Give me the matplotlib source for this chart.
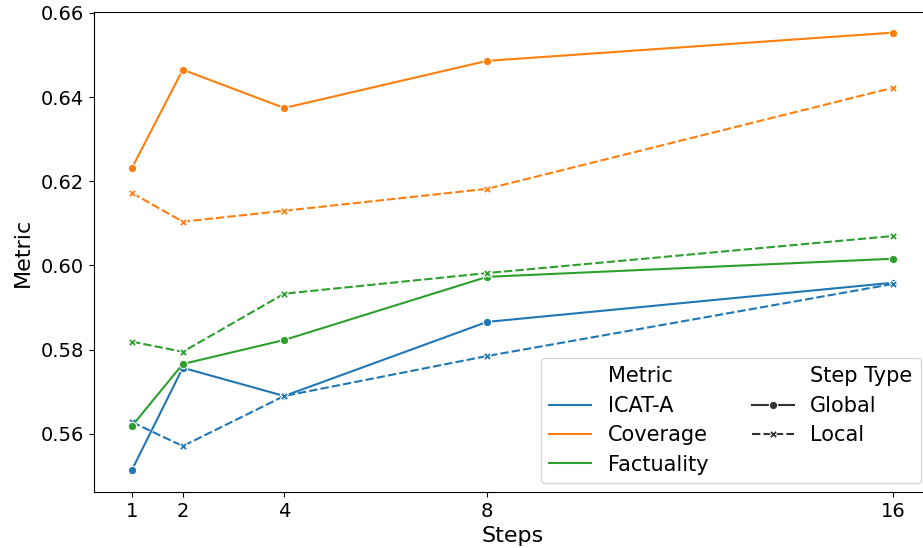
import matplotlib
matplotlib.use("Agg")
import matplotlib.pyplot as plt
from matplotlib.lines import Line2D

steps = [1, 2, 4, 8, 16]
metrics = ["ICAT-A", "Coverage", "Factuality"]
colors = ["#1f77b4", "#ff7f0e", "#2ca02c"]

# values
icat_global = [0.5515, 0.5757, 0.5690, 0.5866, 0.5959]
icat_local = [0.5628, 0.5571, 0.5690, 0.5785, 0.5956]
coverage_global = [0.6232, 0.6465, 0.6374, 0.6486, 0.6553]
coverage_local = [0.6172, 0.6104, 0.6130, 0.6182, 0.6422]
factuality_global = [0.5619, 0.5766, 0.5823, 0.5973, 0.6016]
factuality_local = [0.5819, 0.5795, 0.5933, 0.5982, 0.6070]

series = {
    "ICAT-A": (icat_global, icat_local),
    "Coverage": (coverage_global, coverage_local),
    "Factuality": (factuality_global, factuality_local),
}

plt.rcParams["font.family"] = ["DejaVu Sans"]
fig = plt.figure(figsize=(9.23, 5.48), dpi=100)
ax = fig.add_axes([94 / 923, 56 / 548, 837 / 923, 480 / 548])

lw = 1.5
for name, color in zip(metrics, colors):
    glob, loc = series[name]
    ax.plot(steps, glob, color=color, lw=lw, marker="o", markersize=6,
            markeredgecolor="w", markeredgewidth=0.75)
    ax.plot(steps, loc, color=color, lw=lw, marker="X", markersize=6,
            markeredgecolor="w", markeredgewidth=0.75, dashes=(4, 1.5))

ax.set_xticks(steps)
ax.set_xlim(0.25, 16.75)
ax.set_ylim(0.5462, 0.6602)
yticks = [0.56, 0.58, 0.60, 0.62, 0.64, 0.66]
ax.set_yticks(yticks)
ax.set_yticklabels([f"{v:.2f}" for v in yticks])
ax.tick_params(labelsize=14)
ax.set_xlabel("Steps", fontsize=16)
ax.set_ylabel("Metric", fontsize=16, labelpad=6)

# seaborn-style legend: group titles as blank entries
blank = Line2D([], [], linestyle="none", marker="")
handles = [blank]
labels = ["Metric"]
for name, color in zip(metrics, colors):
    handles.append(Line2D([], [], color=color, lw=lw))
    labels.append(name)
handles += [blank,
            Line2D([], [], color="#333333", lw=lw, marker="o", markersize=6,
                   markeredgecolor="w", markeredgewidth=0.75),
            Line2D([], [], color="#333333", lw=lw, marker="X", markersize=6,
                   markeredgecolor="w", markeredgewidth=0.75, dashes=(4, 1.5)),
            blank]
labels += ["Step Type", "Global", "Local", ""]
ax.legend(handles, labels, ncol=2, loc="lower right", fontsize=15,
          bbox_to_anchor=(0.988, 0.019), borderaxespad=0,
          columnspacing=2.1, labelspacing=0.45)

fig.savefig("out.png", dpi=100)
